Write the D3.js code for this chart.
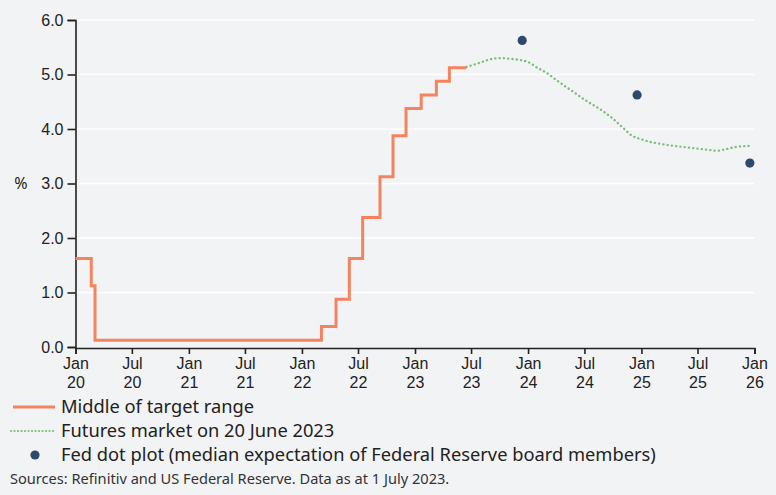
<!DOCTYPE html>
<html><head><meta charset="utf-8">
<script src="https://cdn.jsdelivr.net/npm/d3@7"></script>
<style>
body{margin:0;background:#f2f3f5;}
svg{display:block;font-family:"Noto Sans","Open Sans",sans-serif;}
</style></head><body>
<svg id="c" width="776" height="495"></svg>
<script>
const rateDates = ["2020-01-01","2020-02-21","2020-03-04","2022-03-05","2022-04-21","2022-06-03","2022-07-16","2022-09-10","2022-10-22","2022-12-03","2023-01-21","2023-03-11","2023-04-22","2023-06-16"];
const rateValues = [1.625,1.125,0.125,0.375,0.875,1.625,2.375,3.125,3.875,4.375,4.625,4.875,5.125,5.125];

const futDates = ["2023-06-16","2023-08-01","2023-09-01","2023-10-01","2023-11-01","2023-12-01","2024-01-01","2024-02-01","2024-03-01","2024-04-01","2024-05-01","2024-06-01","2024-07-01","2024-08-01","2024-09-01","2024-10-01","2024-11-01","2024-12-01","2025-01-01","2025-02-01","2025-03-01","2025-04-01","2025-05-01","2025-06-01","2025-07-01","2025-08-01","2025-09-01","2025-10-01","2025-11-01","2025-12-20"];
const futValues = [5.14,5.22,5.28,5.30,5.29,5.27,5.23,5.12,5.03,4.90,4.78,4.66,4.54,4.43,4.32,4.19,4.03,3.88,3.81,3.76,3.73,3.70,3.68,3.66,3.64,3.62,3.60,3.63,3.67,3.69];

const dotDates = ["2023-12-13","2024-12-18","2025-12-17"];
const dotValues = [5.625,4.625,3.375];

const xTickDates = ["2020-01-01","2020-07-01","2021-01-01","2021-07-01","2022-01-01","2022-07-01","2023-01-01","2023-07-01","2024-01-01","2024-07-01","2025-01-01","2025-07-01","2026-01-01"];
const xTickLabels = [["Jan","20"],["Jul","20"],["Jan","21"],["Jul","21"],["Jan","22"],["Jul","22"],["Jan","23"],["Jul","23"],["Jan","24"],["Jul","24"],["Jan","25"],["Jul","25"],["Jan","26"]];
const yTicks = [0,1,2,3,4,5,6];

const legendLabels = ["Middle of target range","Futures market on 20 June 2023","Fed dot plot (median expectation of Federal Reserve board members)"];
const sourceText = "Sources: Refinitiv and US Federal Reserve. Data as at 1 July 2023.";

const P = d3.timeParse("%Y-%m-%d");
const svg = d3.select("#c");
const L = 75.5, R = 754.5, T = 20, B = 347;
const x = d3.scaleTime().domain([P("2020-01-01"), P("2026-01-01")]).range([L, R]);
const y = d3.scaleLinear().domain([0, 6]).range([B, T]);

// gridlines
svg.append("g").selectAll("line").data(yTicks.filter(d => d > 0)).join("line")
  .attr("x1", L).attr("x2", R).attr("y1", d => y(d)).attr("y2", d => y(d))
  .attr("stroke", "#fff").attr("stroke-width", 1.5);

// axes
const yAxis = svg.append("g").attr("transform", `translate(${L},0)`)
  .call(d3.axisLeft(y).tickValues(yTicks).tickFormat(d3.format(".1f")).tickSize(8).tickPadding(4));
const xAxis = svg.append("g").attr("transform", `translate(0,${B + 1})`)
  .call(d3.axisBottom(x).tickValues(xTickDates.map(P)).tickFormat("").tickSize(6));
[yAxis, xAxis].forEach(g => {
  g.select(".domain").attr("stroke", "#222").attr("stroke-width", 1.6);
  g.selectAll(".tick line").attr("stroke", "#222").attr("stroke-width", 1.6);
});
yAxis.selectAll("text").attr("font-size", 16).attr("fill", "#222").style("font-family", "inherit");
xAxis.selectAll(".tick text").remove();
xAxis.selectAll(".tick").each(function(d, i) {
  const t = d3.select(this).append("text").attr("text-anchor", "middle").attr("fill", "#222").attr("font-size", 16);
  t.append("tspan").attr("x", 0).attr("y", 21).text(xTickLabels[i][0]);
  t.append("tspan").attr("x", 0).attr("y", 40).text(xTickLabels[i][1]);
});
svg.append("text").attr("x", 21).attr("y", 189).attr("text-anchor", "middle").attr("font-size", 16).attr("fill", "#222").text("%");

// target range step line
const rates = rateDates.map((d, i) => ({d: P(d), v: rateValues[i]}));
svg.append("path").datum(rates)
  .attr("d", d3.line().x(d => x(d.d)).y(d => y(d.v)).curve(d3.curveStepAfter))
  .attr("fill", "none").attr("stroke", "#f4845f").attr("stroke-width", 3);

// futures
const fut = futDates.map((d, i) => ({d: P(d), v: futValues[i]}));
svg.append("path").datum(fut)
  .attr("d", d3.line().x(d => x(d.d)).y(d => y(d.v)).curve(d3.curveMonotoneX))
  .attr("fill", "none").attr("stroke", "#7dbf7a").attr("stroke-width", 2.4)
  .attr("stroke-dasharray", "0.1 4.2").attr("stroke-linecap", "round");

// dots
svg.append("g").selectAll("circle").data(dotDates.map((d, i) => ({d: P(d), v: dotValues[i]}))).join("circle")
  .attr("cx", d => x(d.d)).attr("cy", d => y(d.v)).attr("r", 4.6).attr("fill", "#2d4a6e");

// legend
const lg = svg.append("g");
lg.append("line").attr("x1", 13).attr("x2", 55).attr("y1", 407).attr("y2", 407).attr("stroke", "#f4845f").attr("stroke-width", 3);
lg.append("line").attr("x1", 11).attr("x2", 56).attr("y1", 431).attr("y2", 431).attr("stroke", "#7dbf7a").attr("stroke-width", 2.2).attr("stroke-dasharray", "0.1 3.4").attr("stroke-linecap", "round");
lg.append("circle").attr("cx", 35).attr("cy", 455).attr("r", 4.6).attr("fill", "#2d4a6e");
lg.selectAll("text").data(legendLabels).join("text")
  .attr("x", 61).attr("y", (d, i) => 407 + i * 24).attr("dy", "0.35em")
  .attr("font-size", 18.3).attr("fill", "#222").text(d => d);
svg.append("text").attr("x", 10).attr("y", 479).attr("dy", "0.35em").attr("font-size", 14.6).attr("fill", "#333").text(sourceText);
</script></body></html>
